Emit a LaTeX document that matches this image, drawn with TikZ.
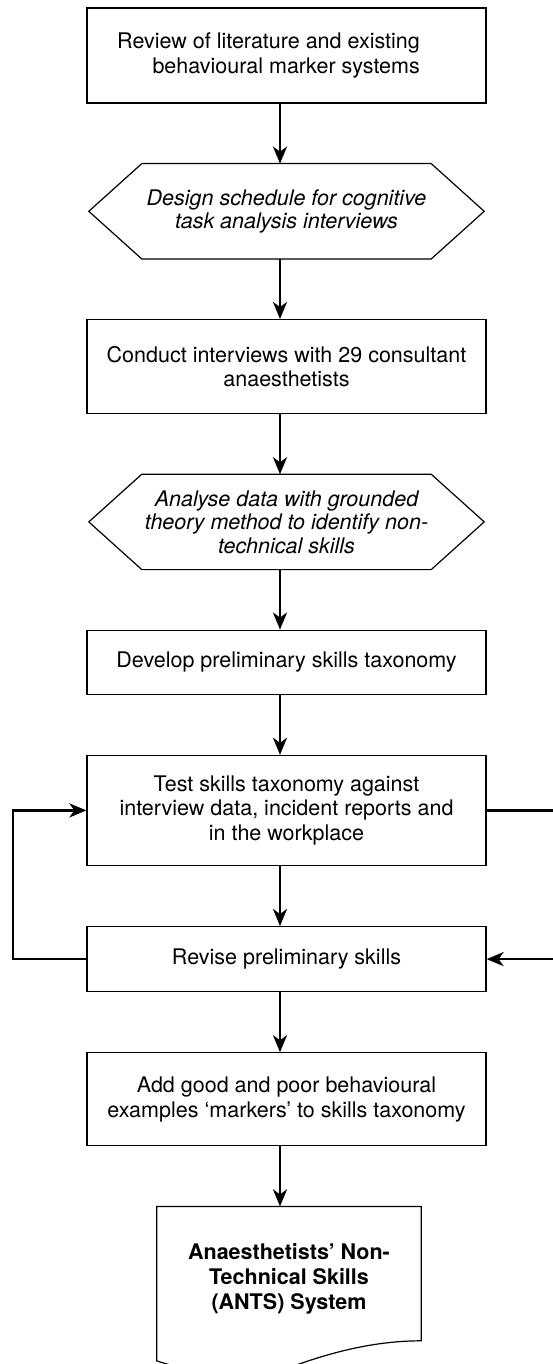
\documentclass[tikz,border=0pt]{standalone}
\usepackage{fontspec}
\setmainfont{TeX Gyre Heros}
\usetikzlibrary{positioning,arrows.meta,calc}
\newcommand{\hexoutline}[1]{\draw[line width=1.2pt] (#1.west) -- ([xshift=53pt]#1.north west)
  -- ([xshift=-53pt]#1.north east) -- (#1.east) -- ([xshift=-53pt]#1.south east)
  -- ([xshift=53pt]#1.south west) -- cycle;}
\newcommand{\flowto}[2]{\draw[flow] ([xshift=-6.5pt]#1.south) -- ([xshift=-6.5pt]#1.south |- #2.north);}

\begin{document}
\begin{tikzpicture}[x=1pt,y=1pt,
    node distance=60pt,
  every node/.style={font=\fontsize{21.5}{24.5}\selectfont, align=center, inner sep=0pt},
  box/.style={draw, line width=1.2pt, minimum width=399pt},
  hexbox/.style={minimum width=395pt, minimum height=95pt, font=\fontsize{21.5}{23.5}\selectfont\itshape},
  docbox/.style={minimum width=264pt, minimum height=154pt, text depth=14pt, font=\fontsize{21.5}{25}\selectfont\bfseries},
  flow/.style={line width=2.6pt, -{Stealth[length=17pt,width=14pt,inset=5pt]}},
  ]
\useasboundingbox (0,0) rectangle (553,-1364);
\coordinate (loop) at (13,0);
\coordinate (edge) at (553,0);

\node[box, minimum height=95pt, align=right] (review) at (286.5,-55.5)
  {Review of literature and existing\hspace*{36pt}\\ behavioural marker systems\hspace*{36pt}};
\node[hexbox, below=of review] (design) {Design schedule for cognitive\\ task analysis interviews};
\node[box, minimum height=94pt, below=of design] (conduct) {Conduct interviews with 29 consultant\\ anaesthetists};
\node[hexbox, below=of conduct] (analyse) {Analyse data with grounded\\ theory method to identify non-\\ technical skills};
\node[box, minimum height=64pt, below=of analyse] (develop) {Develop preliminary skills taxonomy};
\node[box, minimum height=110pt, below=of develop] (test) {Test skills taxonomy against\\ interview data, incident reports and\\ in the workplace};
\node[box, minimum height=65pt, below=of test] (revise) {Revise preliminary skills};
\node[box, minimum height=93pt, below=of revise] (markers) {Add good and poor behavioural\\ examples ‘markers’ to skills taxonomy};
\node[docbox, below=of markers, xshift=2.5pt] (ants) {Anaesthetists’ Non-\\ Technical Skills\\ (ANTS) System};

\hexoutline{design}
\hexoutline{analyse}
\draw[line width=1.2pt] (ants.south west) -- (ants.north west) -- (ants.north east)
  -- ([yshift=20pt]ants.south east)
  .. controls ([shift={(223pt,20pt)}]ants.south west) and ([shift={(183pt,11pt)}]ants.south west)
  .. ([shift={(143pt,-3pt)}]ants.south west)
  .. controls ([shift={(103pt,-17pt)}]ants.south west) and ([shift={(43pt,-15pt)}]ants.south west)
  .. (ants.south west) -- cycle;

\flowto{review}{design}
\flowto{design}{conduct}
\flowto{conduct}{analyse}
\flowto{analyse}{develop}
\flowto{develop}{test}
\flowto{test}{revise}
\flowto{revise}{markers}
\flowto{markers}{ants}
\draw[flow] (revise.west) -- (revise.west -| loop) -- (test.west -| loop) -- (test.west);
\draw[line width=2.6pt] (test.east) -- (test.east -| edge);
\draw[flow] (revise.east -| edge) -- (revise.east);

\end{tikzpicture}
\end{document}
